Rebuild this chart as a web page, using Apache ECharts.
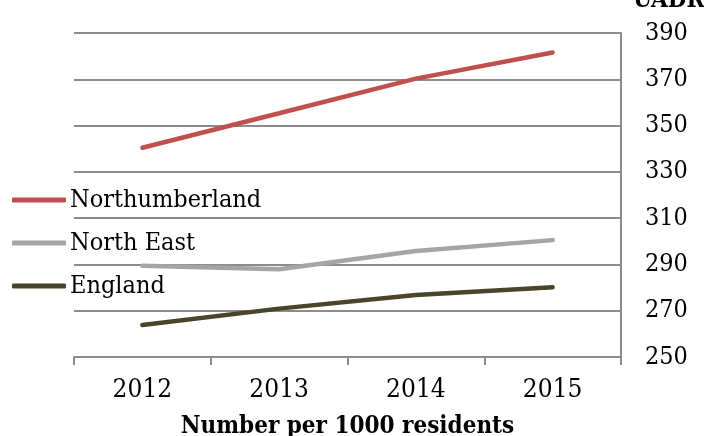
<!DOCTYPE html>
<html>
<head>
<meta charset="utf-8">
<script src="https://cdn.jsdelivr.net/npm/echarts@6/dist/echarts.min.js"></script>
<style>
  html, body { margin: 0; padding: 0; background: #fff; }
  #main { width: 704px; height: 436px; }
</style>
</head>
<body>
<div id="main"></div>
<script>
// data
var years = ['2012', '2013', '2014', '2015'];
var northumberland = [340.4, 355.3, 370.3, 381.6];
var northEast = [289.4, 287.9, 295.8, 300.5];
var england = [263.8, 270.9, 276.8, 280.1];
var seriesNames = ['Northumberland', 'North East', 'England'];
var seriesColors = ['#C0504D', '#A5A5A5', '#4A4528'];

var font = '"DejaVu Serif Condensed", "DejaVu Serif", serif';

var myChart = echarts.init(document.getElementById('main'));
var option = {
  animation: false,
  color: seriesColors,
  grid: { left: 74, right: 83, top: 33, bottom: 79, containLabel: false, outerBoundsMode: 'none' },
  legend: {
    orient: 'vertical',
    left: 7,
    top: 182,
    itemWidth: 54,
    itemHeight: 5,
    itemGap: 17,
    icon: 'roundRect',
    data: seriesNames,
    textStyle: { fontFamily: font, fontSize: 25, color: '#000', lineHeight: 26, padding: [0, 0, 0, -1] }
  },
  xAxis: {
    type: 'category',
    data: years,
    boundaryGap: true,
    name: 'Number per 1000 residents',
    nameLocation: 'middle',
    nameGap: 58,
    nameTextStyle: { fontFamily: font, fontSize: 24, fontWeight: 'bold', color: '#000' },
    axisLine: { lineStyle: { color: '#8c8c8c', width: 2 } },
    axisTick: { show: true, length: 8, lineStyle: { color: '#8c8c8c', width: 2 } },
    axisLabel: { fontFamily: font, fontSize: 26, color: '#000', margin: 20 }
  },
  yAxis: {
    type: 'value',
    position: 'right',
    min: 250,
    max: 390,
    interval: 20,
    name: 'UADR',
    nameLocation: 'end',
    nameGap: 20,
    nameTextStyle: { fontFamily: font, fontSize: 24, fontWeight: 'bold', color: '#000', align: 'left', padding: [0, 0, 0, 12] },
    axisLine: { show: true, lineStyle: { color: '#8c8c8c', width: 2 } },
    axisTick: { show: false },
    splitLine: { lineStyle: { color: '#8c8c8c', width: 2 } },
    axisLabel: { fontFamily: font, fontSize: 25, color: '#000', margin: 24 }
  },
  series: [
    { name: seriesNames[0], type: 'line', data: northumberland, showSymbol: false, lineStyle: { width: 4.5, cap: 'round' } },
    { name: seriesNames[1], type: 'line', data: northEast, showSymbol: false, lineStyle: { width: 4.5, cap: 'round' } },
    { name: seriesNames[2], type: 'line', data: england, showSymbol: false, lineStyle: { width: 4.5, cap: 'round' } }
  ]
};
myChart.setOption(option);
</script>
</body>
</html>
